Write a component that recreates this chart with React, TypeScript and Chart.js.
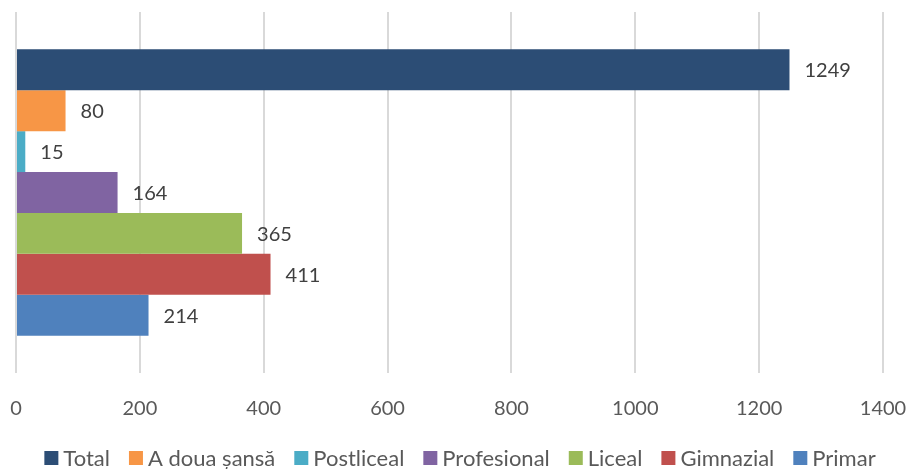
import React, { useEffect, useRef } from "react";
import { Chart, registerables } from "chart.js";

Chart.register(...registerables);

const categories = [""];
const seriesNames = ["Total", "A doua șansă", "Postliceal", "Profesional", "Liceal", "Gimnazial", "Primar"];
const seriesValues = [1249, 80, 15, 164, 365, 411, 214];
const seriesColors = ["#2C4D75", "#F79646", "#4BACC6", "#8064A2", "#9BBB59", "#C0504D", "#4F81BD"];
const xTicks = [0, 200, 400, 600, 800, 1000, 1200, 1400];

const FONT = "Lato, 'Open Sans', sans-serif";

const valueLabels = {
  id: "valueLabels",
  afterDatasetsDraw(chart: any) {
    const ctx = chart.ctx;
    ctx.save();
    ctx.font = `20px ${FONT}`;
    ctx.fillStyle = "#404040";
    ctx.textBaseline = "middle";
    ctx.textAlign = "left";
    chart.data.datasets.forEach((ds: any, i: number) => {
      const meta = chart.getDatasetMeta(i);
      meta.data.forEach((bar: any, j: number) => {
        ctx.fillText(String(ds.data[j]), bar.x + 15, bar.y + 1);
      });
    });
    ctx.restore();
  },
};

const customLegend = {
  id: "customLegend",
  afterDraw(chart: any) {
    const ctx = chart.ctx;
    ctx.save();
    ctx.font = `22px ${FONT}`;
    ctx.textBaseline = "middle";
    ctx.textAlign = "left";
    const box = 14;
    const boxGap = 5;
    const itemGap = 19;
    const items = chart.data.datasets.map((ds: any) => ({
      label: ds.label,
      color: ds.backgroundColor,
      w: ctx.measureText(ds.label).width,
    }));
    const total = items.reduce((s: number, it: any) => s + box + boxGap + it.w, 0) + itemGap * (items.length - 1);
    let x = 460 - total / 2;
    const y = 458;
    items.forEach((it: any) => {
      ctx.fillStyle = it.color;
      ctx.fillRect(x, y - box / 2, box, box);
      x += box + boxGap;
      ctx.fillStyle = "#595959";
      ctx.fillText(it.label, x, y + 1);
      x += it.w + itemGap;
    });
    ctx.restore();
  },
};

export default function App() {
  const ref = useRef<HTMLCanvasElement>(null);
  useEffect(() => {
    document.body.style.margin = "0";
    const chart = new Chart(ref.current!, {
      type: "bar",
      data: {
        labels: categories,
        datasets: seriesNames.map((name, i) => ({
          label: name,
          data: [seriesValues[i]],
          backgroundColor: seriesColors[i],
          borderWidth: 0,
        })),
      },
      options: {
        indexAxis: "y",
        animation: false,
        responsive: false,
        maintainAspectRatio: false,
        datasets: { bar: { categoryPercentage: 0.793, barPercentage: 1 } },
        layout: { padding: { left: 16, right: 27, top: 12, bottom: 24 } },
        scales: {
          x: {
            min: 0,
            max: 1400,
            afterBuildTicks(axis: any) {
              axis.ticks = xTicks.map((v) => ({ value: v }));
            },
            afterFit(axis: any) {
              axis.paddingLeft = 0;
              axis.paddingRight = 0;
            },
            grid: { color: "#D9D9D9", lineWidth: 2, drawTicks: false },
            border: { display: false },
            ticks: {
              color: "#595959",
              font: { size: 20, family: FONT },
              padding: 24,
              callback: (v: any) => String(v),
            },
          },
          y: {
            display: false,
          },
        },
        plugins: {
          legend: { display: false },
          tooltip: { enabled: false },
        },
      },
      plugins: [valueLabels, customLegend],
    });
    return () => chart.destroy();
  }, []);
  return (
    <div style={{ position: "absolute", left: 0, top: 0, width: 910, height: 469, background: "#fff" }}>
      <canvas ref={ref} width={910} height={469} />
    </div>
  );
}
